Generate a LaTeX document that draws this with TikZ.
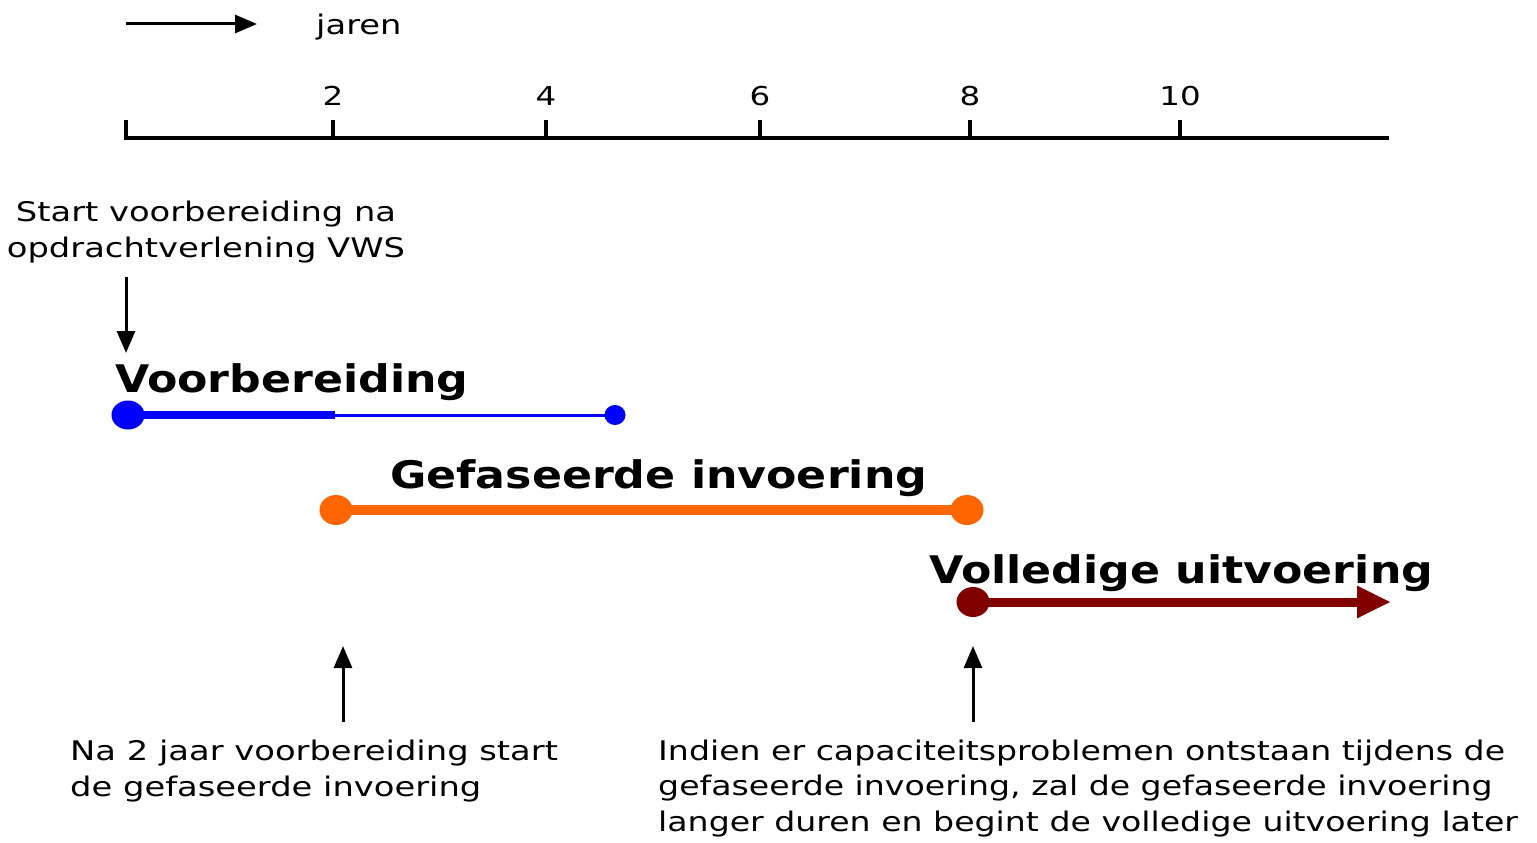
\documentclass[tikz,border=0pt]{standalone}
\usepackage{fontspec}
\setmainfont{DejaVu Sans}[FakeStretch=1.25]
\newfontfamily\titlefont{DejaVu Sans Bold}[FakeStretch=1.165]
\newfontfamily\notefont{DejaVu Sans}[FakeStretch=1.228]
\usetikzlibrary{arrows.meta,shapes.geometric}
\definecolor{vbblue}{HTML}{0000FF}
\definecolor{gforange}{HTML}{FF6600}
\definecolor{vudark}{HTML}{800000}
\tikzset{
  txt/.style={inner sep=0pt, align=left, font=\fontsize{27}{35.5}\selectfont},
  ttl/.style={inner sep=0pt, anchor=base west, font=\titlefont\fontsize{38}{44}\selectfont},
  num/.style={inner sep=0pt, anchor=base, font=\fontsize{26}{30}\selectfont},
  tick/.style={line width=4pt},
  arr/.style={line width=3pt, -{Triangle[length=22pt,width=18pt]}},
  dot/.style={ellipse, inner sep=0pt, draw=none}
}
\begin{document}
\begin{tikzpicture}[x=1pt,y=-1pt]
\useasboundingbox (0,0) rectangle (1537,843);
% legend arrow
\coordinate (la) at (126,24);
\coordinate (lb) at (257,24);
\draw[arr] (la) -- (lb);
\node[num, anchor=base west, font=\fontsize{27}{30}\selectfont] (jaren) at (316,35) {jaren};
% axis
\coordinate (ax0) at (124,138);
\coordinate (ax1) at (1389,138);
\draw[line width=4pt] (ax0) -- (ax1);
\foreach \x/\l [count=\i] in {126/,333/2,546/4,760/6,970/8,1180/10}{
  \draw[tick] (\x,120) -- (\x,139);
  \node[num] (n\i) at (\x,105) {\l};
}
% start text (base anchor = last line baseline)
\node[txt, align=center, anchor=base] (start) at (206,257) {Start voorbereiding na\\opdrachtverlening VWS};
\coordinate (sa) at (126,277);
\coordinate (sb) at (126,353);
\draw[arr] (sa) -- (sb);
% Voorbereiding
\node[ttl] (tv) at (115,392) {Voorbereiding};
\node[dot, fill=vbblue, minimum width=33pt, minimum height=29pt] (v0) at (128,415) {};
\coordinate (v1) at (335,415);
\node[dot, fill=vbblue, minimum width=21pt, minimum height=20pt] (v2) at (615,415) {};
\draw[vbblue, line width=8pt] (v0.center) -- (v1);
\draw[vbblue, line width=3pt] (v1) -- (v2.center);
% Gefaseerde invoering
\node[ttl] (tg) at (390,488) {Gefaseerde invoering};
\node[dot, fill=gforange, minimum width=33pt, minimum height=30pt] (g0) at (336,510) {};
\node[dot, fill=gforange, minimum width=33pt, minimum height=30pt] (g1) at (967,510) {};
\draw[gforange, line width=10pt] (g0.center) -- (g1.center);
% Volledige uitvoering
\node[ttl] (tu) at (929,583) {Volledige uitvoering};
\node[dot, fill=vudark, minimum width=33pt, minimum height=30pt] (u0) at (973,602) {};
\coordinate (u1) at (1391,602);
\draw[vudark, line width=9pt, -{Triangle[length=34pt,width=30pt]}] (u0.center) -- (u1);
% bottom arrows
\coordinate (ba1) at (343,722);
\coordinate (bb1) at (343,646);
\draw[arr] (ba1) -- (bb1);
\coordinate (ba2) at (973,722);
\coordinate (bb2) at (973,646);
\draw[arr] (ba2) -- (bb2);
% bottom texts
\node[txt, anchor=base west] (na) at (70,796) {Na 2 jaar voorbereiding start\\de gefaseerde invoering};
\node[txt, anchor=base west, font=\notefont\fontsize{27}{35.5}\selectfont] (ind) at (658,831) {Indien er capaciteitsproblemen ontstaan tijdens de\\gefaseerde invoering, zal de gefaseerde invoering\\langer duren en begint de volledige uitvoering later};
\end{tikzpicture}
\end{document}
